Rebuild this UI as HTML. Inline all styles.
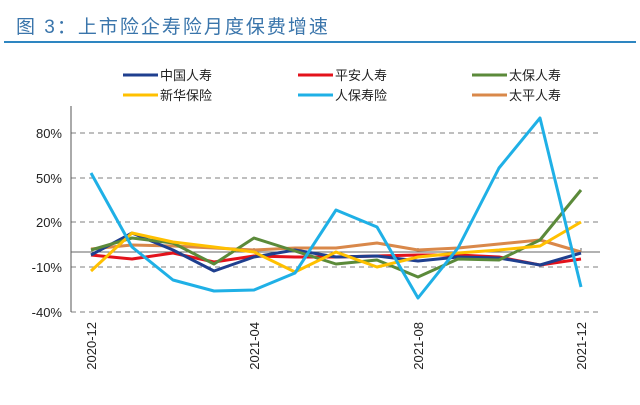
<!DOCTYPE html><html><head><meta charset="utf-8"><style>
body{margin:0;background:#fff;width:640px;height:400px;overflow:hidden;font-family:"Liberation Sans","Noto Sans CJK SC",sans-serif}
</style></head><body>
<svg width="640" height="400" xmlns="http://www.w3.org/2000/svg" font-family="Liberation Sans, Noto Sans CJK SC, sans-serif">
<text x="16" y="33" font-size="19" fill="#3a75ab" letter-spacing="2">图 3：上市险企寿险月度保费增速</text>
<line x1="4" y1="42" x2="636" y2="42" stroke="#2e86c1" stroke-width="2"/>
<g font-size="13" fill="#222">
<line x1="123" y1="75" x2="158" y2="75" stroke="#1f3f8f" stroke-width="3"/><text x="160" y="80">中国人寿</text>
<line x1="298" y1="75" x2="333" y2="75" stroke="#e3121b" stroke-width="3"/><text x="335" y="80">平安人寿</text>
<line x1="472" y1="75" x2="507" y2="75" stroke="#5b8a3a" stroke-width="3"/><text x="509" y="80">太保人寿</text>
<line x1="123" y1="95" x2="158" y2="95" stroke="#ffc000" stroke-width="3"/><text x="160" y="100">新华保险</text>
<line x1="298" y1="95" x2="333" y2="95" stroke="#1fb0e6" stroke-width="3"/><text x="335" y="100">人保寿险</text>
<line x1="472" y1="95" x2="507" y2="95" stroke="#d9884a" stroke-width="3"/><text x="509" y="100">太平人寿</text>
</g>
<g stroke="#999" stroke-width="1.3" stroke-dasharray="5,4">
<line x1="71" y1="133" x2="600" y2="133"/><line x1="71" y1="178" x2="600" y2="178"/><line x1="71" y1="222" x2="600" y2="222"/><line x1="71" y1="267" x2="600" y2="267"/><line x1="71" y1="312" x2="600" y2="312"/>
</g>
<line x1="71" y1="106" x2="71" y2="312" stroke="#555" stroke-width="1"/>
<line x1="71" y1="252" x2="600" y2="252" stroke="#666" stroke-width="1"/>
<g stroke="#666"><line x1="254" y1="252" x2="254" y2="248"/><line x1="418" y1="252" x2="418" y2="248"/><line x1="581" y1="252" x2="581" y2="248"/></g>
<g font-size="13" fill="#222" text-anchor="end">
<text x="62" y="138">80%</text><text x="62" y="183">50%</text><text x="62" y="227">20%</text><text x="62" y="272">-10%</text><text x="62" y="317">-40%</text>
</g>
<g font-size="13" fill="#222" text-anchor="end">
<text transform="translate(96,322) rotate(-90)">2020-12</text>
<text transform="translate(259,322) rotate(-90)">2021-04</text>
<text transform="translate(423,322) rotate(-90)">2021-08</text>
<text transform="translate(586,322) rotate(-90)">2021-12</text>
</g>
<g fill="none" stroke-width="3" stroke-linejoin="round">
<polyline stroke="#d9884a" points="91,249 132,245 173,246 214,248 254,250 295,248 336,248 377,243 418,250 458,248 499,244 540,240 581,252"/>
<polyline stroke="#e3121b" points="91,255 132,259 173,253 214,262 254,256 295,257 336,257 377,256 418,255 458,255 499,257 540,265 581,259"/>
<polyline stroke="#1f3f8f" points="91,255 132,233 173,250 214,271 254,257 295,250 336,257 377,256 418,261 458,257 499,258 540,265 581,253"/>
<polyline stroke="#5b8a3a" points="91,250 132,238 173,243 214,264 254,238 295,251 336,264 377,260 418,277 458,259 499,260 540,240 581,190"/>
<polyline stroke="#ffc000" points="91,271 132,233 173,242 214,247 254,252 295,272 336,252 377,267 418,257 458,253 499,250 540,246 581,222"/>
<polyline stroke="#1fb0e6" points="91,173 132,247 173,280 214,291 254,290 295,273 336,210 377,227 418,298 458,248 499,168 540,118 581,287"/>
</g>
</svg>
</body></html>
